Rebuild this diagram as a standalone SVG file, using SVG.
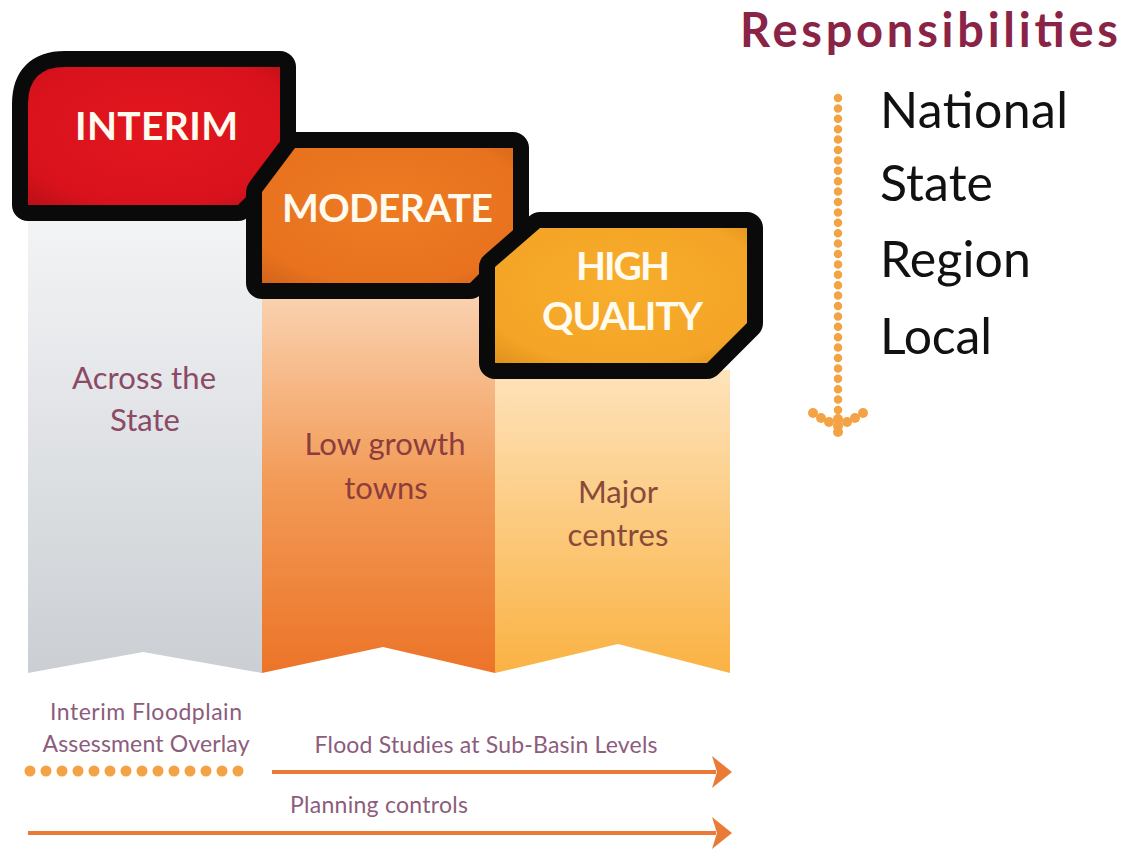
<svg xmlns="http://www.w3.org/2000/svg" xmlns:xlink="http://www.w3.org/1999/xlink" width="1130" height="852" viewBox="0 0 1130 852">
<style>
.lbl{font-family:Lato,"Open Sans","Liberation Sans",sans-serif;}
.box{font-family:Lato,"Open Sans","Liberation Sans",sans-serif;font-weight:bold;fill:#fffbef;font-size:39px;text-anchor:start;}
.col{font-size:31px;}
.bot{font-size:23px;fill:#8c5c7c;}
.resp{font-size:50px;fill:#111;}
.frame{fill:#0a0a0a;stroke:#0a0a0a;stroke-width:32;stroke-linejoin:round;}
.dots{fill:#f3a343;}
.arrow{stroke:#e97b36;stroke-width:4;fill:none;}
</style>
<defs>
<linearGradient id="gGray" x1="0" y1="215" x2="0" y2="673" gradientUnits="userSpaceOnUse">
<stop offset="0" stop-color="#f3f4f6"/><stop offset="1" stop-color="#cbcfd3"/>
</linearGradient>
<linearGradient id="gOrange" x1="0" y1="295" x2="0" y2="673" gradientUnits="userSpaceOnUse">
<stop offset="0" stop-color="#fad2b0"/><stop offset="0.5" stop-color="#f29a56"/><stop offset="1" stop-color="#ec7428"/>
</linearGradient>
<linearGradient id="gGold" x1="0" y1="375" x2="0" y2="673" gradientUnits="userSpaceOnUse">
<stop offset="0" stop-color="#fee2b9"/><stop offset="1" stop-color="#fab243"/>
</linearGradient>
<radialGradient id="gRed" cx="0.5" cy="0.45" r="0.75">
<stop offset="0" stop-color="#e3161f"/><stop offset="0.75" stop-color="#d8121c"/><stop offset="1" stop-color="#b80f17"/>
</radialGradient>
<radialGradient id="gMod" cx="0.5" cy="0.45" r="0.75">
<stop offset="0" stop-color="#ee7b24"/><stop offset="0.75" stop-color="#e8721e"/><stop offset="1" stop-color="#d0631a"/>
</radialGradient>
<radialGradient id="gHigh" cx="0.5" cy="0.45" r="0.75">
<stop offset="0" stop-color="#f8ad2c"/><stop offset="0.75" stop-color="#f4a426"/><stop offset="1" stop-color="#de901c"/>
</radialGradient>
<path id="pInterim" d="M28,205 L28,104 Q28,67 65,67 L280,67 L280,163 L238,205 Z"/>
<path id="pMod" d="M262,283 L262,192 L295,148 L513,148 L513,240 L470,283 Z"/>
<path id="pHigh" d="M495,363 L495,267 L540,228 L747,228 L747,323 L707,363 Z"/>
<marker id="ah" viewBox="0 0 20 32" refX="4" refY="16" markerWidth="20" markerHeight="32" markerUnits="userSpaceOnUse" orient="auto">
<path d="M0,0 L20,16 L0,32 L5,16 Z" fill="#e97b36"/>
</marker>
</defs>
<rect width="1130" height="852" fill="#ffffff"/>

<g id="ribbons">
<path id="col-state" d="M28,215 L262,215 L262,673 L143,652 L28,673 Z" fill="url(#gGray)"/>
<path id="col-low" d="M262,290 L495,290 L495,673 L383,647 L262,673 Z" fill="url(#gOrange)"/>
<path id="col-major" d="M495,370 L730,370 L730,673 L618,644 L495,673 Z" fill="url(#gGold)"/>
<g class="lbl col" text-anchor="middle">
<text x="144" y="389" fill="#8b4a66" textLength="144">Across the</text>
<text x="145" y="431" fill="#8b4a66">State</text>
<text x="385" y="455" fill="#8c3d3e" textLength="161">Low growth</text>
<text x="386" y="499" fill="#8c3d3e">towns</text>
<text x="618" y="503" fill="#8a4a3a">Major</text>
<text x="618" y="546" fill="#8a4a3a" textLength="101">centres</text>
</g>
</g>

<g id="node-interim">
<use xlink:href="#pInterim" class="frame"/>
<use xlink:href="#pInterim" fill="url(#gRed)"/>
<text class="box" x="75" y="140" textLength="163">INTERIM</text>
</g>
<g id="node-moderate">
<use xlink:href="#pMod" class="frame"/>
<use xlink:href="#pMod" fill="url(#gMod)"/>
<text class="box" x="282" y="222" textLength="211">MODERATE</text>
</g>
<g id="node-high">
<use xlink:href="#pHigh" class="frame"/>
<use xlink:href="#pHigh" fill="url(#gHigh)"/>
<text class="box" x="576" y="280" textLength="94">HIGH</text>
<text class="box" x="542" y="330" textLength="161">QUALITY</text>
</g>

<g id="responsibilities">
<text class="lbl" x="740" y="47" font-size="47" font-weight="bold" fill="#8a2446" textLength="378">Responsibilities</text>
<text class="lbl resp" x="880" y="128" textLength="188">National</text>
<text class="lbl resp" x="880" y="201" textLength="113">State</text>
<text class="lbl resp" x="880" y="277" textLength="151">Region</text>
<text class="lbl resp" x="880" y="354" textLength="112">Local</text>
</g>

<g id="bottom-labels" class="lbl bot" text-anchor="middle">
<text x="146" y="720" textLength="192">Interim Floodplain</text>
<text x="146" y="752" textLength="207">Assessment Overlay</text>
<text x="486" y="753" textLength="343">Flood Studies at Sub-Basin Levels</text>
<text x="379" y="813" textLength="178">Planning controls</text>
</g>

<g id="connectors">
<line x1="838" y1="98" x2="838" y2="410" stroke="#f3a343" stroke-width="8.5" stroke-linecap="round" stroke-dasharray="0 10.4"/>
<g class="dots">
<circle cx="813" cy="413" r="5"/><circle cx="821" cy="418" r="5"/><circle cx="829" cy="422" r="5"/>
<circle cx="838" cy="419" r="5"/><circle cx="838" cy="426" r="5"/><circle cx="838" cy="432" r="5"/>
<circle cx="847" cy="422" r="5"/><circle cx="855" cy="418" r="5"/><circle cx="863" cy="413" r="5"/>
</g>
<line x1="30" y1="771" x2="254" y2="771" stroke="#f3a343" stroke-width="11" stroke-linecap="round" stroke-dasharray="0 16"/>
<line class="arrow" x1="272" y1="772" x2="716" y2="772" marker-end="url(#ah)"/>
<line class="arrow" x1="28" y1="833" x2="716" y2="833" marker-end="url(#ah)"/>
</g>
</svg>
